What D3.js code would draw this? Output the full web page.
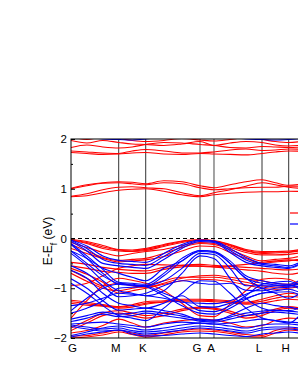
<!DOCTYPE html>
<html>
<head>
<meta charset="utf-8">
<script src="https://cdn.jsdelivr.net/npm/d3@7"></script>
<style>
  body { margin: 0; background: #fff; }
  svg { font-family: Arial, "Liberation Sans", sans-serif; }
</style>
</head>
<body>
<svg id="chart" width="298" height="385"></svg>
<script>
/* high symmetry points along the path */
const kLabels = ["G", "M", "K", "G", "A", "L", "H", "A"];
const kTicks = [0, 0.577, 0.904, 1.561, 1.730, 2.311, 2.634, 3.291];

/* k points where band energies were read */
const kGrid = [0, 0.192, 0.385, 0.577, 0.740, 0.904, 1.123, 1.342, 1.561,
  1.730, 1.924, 2.117, 2.311, 2.472, 2.634, 2.853, 3.072, 3.291];

/* spin up bands (red), eV */
const upBands = [
  [0.84, 0.86, 0.92, 0.97, 0.99, 1.00, 0.95, 0.88, 0.84, 0.88, 0.91, 0.93, 0.94, 0.94, 0.95, 0.94, 0.92, 0.90],
  [0.85, 0.90, 0.98, 1.03, 1.04, 1.02, 1.00, 0.92, 0.86, 0.92, 0.98, 1.05, 1.12, 1.08, 1.03, 1.00, 0.97, 0.95],
  [1.00, 1.06, 1.11, 1.12, 1.10, 1.08, 1.12, 1.10, 1.02, 0.98, 1.00, 1.02, 1.03, 1.03, 1.05, 1.05, 1.03, 1.00],
  [1.01, 1.08, 1.12, 1.14, 1.13, 1.10, 1.16, 1.14, 1.06, 1.02, 1.08, 1.14, 1.18, 1.12, 1.07, 1.10, 1.12, 1.10],
  [1.73, 1.71, 1.69, 1.70, 1.72, 1.73, 1.70, 1.69, 1.71, 1.70, 1.69, 1.68, 1.71, 1.74, 1.76, 1.75, 1.73, 1.70],
  [1.76, 1.74, 1.72, 1.71, 1.76, 1.79, 1.76, 1.72, 1.72, 1.74, 1.78, 1.80, 1.77, 1.78, 1.80, 1.79, 1.76, 1.74],
  [1.83, 1.88, 1.84, 1.82, 1.84, 1.89, 1.93, 1.92, 1.89, 1.87, 1.83, 1.82, 1.85, 1.84, 1.83, 1.84, 1.86, 1.87],
  [1.97, 1.92, 1.97, 1.93, 1.90, 1.89, 1.87, 1.90, 1.95, 1.87, 1.92, 1.95, 1.93, 1.88, 1.86, 1.88, 1.90, 1.88],
  [2.05, 1.99, 2.04, 2.01, 1.97, 1.95, 1.97, 2.01, 1.98, 1.96, 1.99, 2.03, 1.99, 1.95, 1.93, 1.96, 1.99, 1.97],
  [-0.02, -0.06, -0.14, -0.22, -0.23, -0.20, -0.12, -0.05, -0.02, -0.04, -0.12, -0.22, -0.26, -0.26, -0.25, -0.20, -0.12, -0.05],
  [-0.03, -0.08, -0.17, -0.23, -0.25, -0.22, -0.14, -0.06, -0.03, -0.05, -0.13, -0.24, -0.28, -0.27, -0.27, -0.21, -0.13, -0.06],
  [-0.04, -0.10, -0.20, -0.25, -0.26, -0.24, -0.16, -0.08, -0.04, -0.06, -0.15, -0.25, -0.30, -0.29, -0.28, -0.22, -0.14, -0.07],
  [-0.08, -0.18, -0.28, -0.35, -0.30, -0.26, -0.22, -0.14, -0.08, -0.10, -0.18, -0.28, -0.33, -0.33, -0.32, -0.26, -0.18, -0.10],
  [-0.12, -0.25, -0.38, -0.44, -0.42, -0.40, -0.30, -0.18, -0.10, -0.12, -0.22, -0.35, -0.45, -0.42, -0.40, -0.32, -0.22, -0.12],
  [-0.20, -0.30, -0.40, -0.47, -0.45, -0.43, -0.36, -0.25, -0.15, -0.16, -0.28, -0.40, -0.50, -0.47, -0.45, -0.38, -0.27, -0.16],
  [-0.48, -0.52, -0.58, -0.62, -0.64, -0.65, -0.58, -0.54, -0.52, -0.54, -0.56, -0.58, -0.60, -0.62, -0.63, -0.60, -0.56, -0.54],
  [-0.55, -0.60, -0.66, -0.68, -0.70, -0.70, -0.62, -0.57, -0.55, -0.57, -0.60, -0.63, -0.66, -0.70, -0.72, -0.66, -0.60, -0.57],
  [-0.95, -0.90, -0.75, -0.60, -0.55, -0.52, -0.53, -0.54, -0.56, -0.57, -0.55, -0.52, -0.48, -0.45, -0.43, -0.47, -0.52, -0.57],
  [-0.60, -0.72, -0.88, -1.10, -1.05, -1.00, -0.92, -0.85, -0.82, -0.83, -0.87, -0.93, -1.00, -1.02, -1.00, -0.94, -0.88, -0.83],
  [-0.64, -0.80, -0.95, -0.90, -0.95, -0.98, -0.90, -0.80, -0.75, -0.74, -0.78, -0.82, -0.85, -0.90, -0.92, -0.86, -0.80, -0.76],
  [-0.70, -0.86, -1.00, -1.05, -1.00, -0.95, -0.85, -0.78, -0.78, -0.78, -0.82, -0.88, -0.95, -0.98, -0.95, -0.90, -0.85, -0.80],
  [-1.60, -1.25, -0.95, -0.80, -0.84, -0.90, -1.05, -1.30, -1.55, -1.57, -1.32, -1.05, -0.82, -0.80, -0.82, -1.02, -1.30, -1.57],
  [-1.24, -1.28, -1.33, -1.37, -1.33, -1.27, -1.25, -1.22, -1.22, -1.23, -1.25, -1.28, -1.22, -1.15, -1.10, -1.15, -1.20, -1.23],
  [-1.27, -1.31, -1.35, -1.38, -1.35, -1.30, -1.27, -1.24, -1.24, -1.25, -1.27, -1.30, -1.26, -1.20, -1.16, -1.20, -1.24, -1.25],
  [-1.30, -1.34, -1.36, -1.40, -1.38, -1.32, -1.28, -1.26, -1.26, -1.27, -1.29, -1.32, -1.30, -1.25, -1.22, -1.25, -1.28, -1.27],
  [-1.80, -1.65, -1.50, -1.45, -1.50, -1.55, -1.50, -1.42, -1.38, -1.40, -1.46, -1.55, -1.50, -1.42, -1.37, -1.42, -1.47, -1.40],
  [-1.85, -1.70, -1.55, -1.50, -1.55, -1.60, -1.55, -1.45, -1.40, -1.42, -1.50, -1.60, -1.55, -1.45, -1.40, -1.45, -1.50, -1.42],
  [-1.90, -1.85, -1.75, -1.62, -1.70, -1.78, -1.70, -1.65, -1.62, -1.64, -1.70, -1.78, -1.75, -1.65, -1.60, -1.62, -1.65, -1.64],
  [-1.96, -1.95, -1.90, -1.85, -1.90, -1.95, -1.90, -1.85, -1.82, -1.84, -1.88, -1.93, -1.95, -1.85, -1.80, -1.85, -1.90, -1.84],
  [-2.00, -1.98, -1.94, -1.88, -1.93, -1.98, -1.94, -1.88, -1.86, -1.87, -1.91, -1.97, -1.98, -1.90, -1.84, -1.88, -1.93, -1.87]
];

/* spin down bands (blue), eV */
const downBands = [
  [2.10, 2.05, 2.00, 1.99, 1.98, 2.00, 2.05, 2.10, 2.15, 2.10, 2.05, 2.00, 1.99, 1.98, 1.99, 2.02, 2.06, 2.10],
  [-0.03, -0.15, -0.35, -0.44, -0.46, -0.48, -0.30, -0.12, -0.03, -0.05, -0.20, -0.38, -0.50, -0.52, -0.55, -0.40, -0.20, -0.05],
  [-0.04, -0.20, -0.42, -0.50, -0.52, -0.54, -0.36, -0.16, -0.04, -0.06, -0.24, -0.43, -0.52, -0.55, -0.58, -0.43, -0.22, -0.06],
  [-0.06, -0.25, -0.50, -0.55, -0.58, -0.60, -0.42, -0.20, -0.06, -0.08, -0.28, -0.48, -0.55, -0.58, -0.60, -0.45, -0.25, -0.08],
  [-0.10, -0.35, -0.62, -0.88, -0.90, -0.92, -0.70, -0.40, -0.24, -0.26, -0.45, -0.75, -0.85, -0.90, -0.92, -0.75, -0.50, -0.26],
  [-0.12, -0.40, -0.70, -0.92, -0.94, -0.96, -0.75, -0.45, -0.26, -0.28, -0.50, -0.80, -0.90, -0.93, -0.95, -0.80, -0.55, -0.28],
  [-0.25, -0.50, -0.75, -0.90, -0.92, -0.95, -0.85, -0.60, -0.30, -0.32, -0.60, -0.95, -0.95, -0.95, -0.96, -0.85, -0.60, -0.32],
  [-0.25, -0.40, -0.60, -0.70, -0.78, -0.85, -0.60, -0.45, -0.24, -0.26, -0.50, -0.80, -1.00, -1.10, -1.20, -1.00, -0.60, -0.26],
  [-0.30, -0.55, -0.85, -1.05, -1.10, -1.15, -1.05, -0.70, -0.35, -0.40, -0.80, -1.20, -1.40, -1.45, -1.45, -1.30, -0.90, -0.40],
  [-0.55, -0.70, -0.95, -1.17, -1.15, -1.10, -0.95, -0.85, -0.90, -0.92, -0.90, -1.04, -1.05, -1.00, -0.98, -0.95, -0.92, -0.92],
  [-0.64, -0.80, -1.10, -1.30, -1.35, -1.40, -1.30, -1.15, -1.37, -1.38, -1.30, -1.20, -1.10, -1.05, -1.02, -1.15, -1.30, -1.38],
  [-0.81, -1.00, -1.25, -1.44, -1.42, -1.40, -1.45, -1.52, -1.64, -1.66, -1.55, -1.40, -1.30, -1.35, -1.38, -1.45, -1.55, -1.66],
  [-0.90, -1.10, -1.35, -1.55, -1.60, -1.65, -1.40, -1.10, -0.85, -0.86, -1.10, -1.40, -1.60, -1.65, -1.70, -1.40, -1.10, -0.86],
  [-1.35, -1.30, -1.20, -1.10, -1.12, -1.15, -1.20, -1.28, -1.30, -1.31, -1.25, -1.12, -1.00, -0.95, -0.93, -1.10, -1.25, -1.31],
  [-1.45, -1.20, -1.00, -0.92, -0.94, -0.97, -1.15, -1.35, -1.50, -1.52, -1.40, -1.22, -1.10, -1.08, -1.07, -1.20, -1.40, -1.52],
  [-1.50, -1.40, -1.25, -1.00, -0.98, -0.96, -1.10, -1.25, -1.45, -1.47, -1.35, -1.15, -0.92, -0.88, -0.86, -1.05, -1.30, -1.47],
  [-1.62, -1.55, -1.48, -1.52, -1.50, -1.46, -1.50, -1.56, -1.62, -1.64, -1.58, -1.50, -1.46, -1.44, -1.46, -1.50, -1.58, -1.64],
  [-1.67, -1.60, -1.52, -1.57, -1.55, -1.50, -1.55, -1.60, -1.66, -1.68, -1.62, -1.55, -1.50, -1.48, -1.50, -1.55, -1.62, -1.68],
  [-1.72, -1.70, -1.68, -1.72, -1.75, -1.78, -1.72, -1.68, -1.70, -1.72, -1.70, -1.66, -1.62, -1.65, -1.68, -1.70, -1.72, -1.72],
  [-1.74, -1.78, -1.82, -1.80, -1.85, -1.88, -1.85, -1.80, -1.76, -1.78, -1.82, -1.86, -1.80, -1.78, -1.78, -1.82, -1.84, -1.78],
  [-1.77, -1.82, -1.86, -1.84, -1.88, -1.92, -1.89, -1.84, -1.80, -1.82, -1.86, -1.90, -1.84, -1.82, -1.82, -1.86, -1.88, -1.82],
  [-1.95, -1.88, -1.80, -1.76, -1.80, -1.84, -1.80, -1.74, -1.70, -1.72, -1.76, -1.80, -1.74, -1.72, -1.72, -1.76, -1.80, -1.72],
  [-1.98, -1.92, -1.88, -1.84, -1.92, -1.96, -1.95, -1.92, -1.90, -1.92, -1.95, -1.97, -1.92, -1.90, -1.88, -1.92, -1.95, -1.92]
];

const yMajor = [-2, -1, 0, 1, 2];
const yMinor = [-1.5, -0.5, 0.5, 1.5];

/* layout */
const svg = d3.select("#chart");
const W = 298;
const pLeft = 71, pTop = 139, pBottom = 338, pRight = 343;

const x = d3.scaleLinear().domain([0, kTicks[kTicks.length - 1]]).range([pLeft, pRight]);
const y = d3.scaleLinear().domain([-2, 2]).range([pBottom, pTop]);

svg.append("clipPath").attr("id", "plot-clip")
  .append("rect")
  .attr("x", pLeft).attr("y", pTop)
  .attr("width", pRight - pLeft).attr("height", pBottom - pTop);

const plot = svg.append("g").attr("clip-path", "url(#plot-clip)");

const line = d3.line()
  .x((d, i) => x(kGrid[i]))
  .y(d => y(d))
  .curve(d3.curveMonotoneX);

// high symmetry lines
plot.selectAll(".kline")
  .data(kTicks.slice(1))
  .join("line")
  .attr("x1", d => x(d)).attr("x2", d => x(d))
  .attr("y1", pTop).attr("y2", pBottom)
  .attr("stroke", (d, i) => (i === 2 || i === 3) ? "#8c8c8c" : "#333")
  .attr("stroke-width", (d, i) => (i === 2 || i === 3) ? 1.6 : 1);

plot.append("g").selectAll("path")
  .data(upBands)
  .join("path")
  .attr("d", line)
  .attr("fill", "none")
  .attr("stroke", "#ff0000")
  .attr("stroke-width", 1.1);

plot.append("g").selectAll("path")
  .data(downBands)
  .join("path")
  .attr("d", line)
  .attr("fill", "none")
  .attr("stroke", "#0000ff")
  .attr("stroke-width", 1.1);

// Fermi level
plot.append("line")
  .attr("x1", pLeft).attr("x2", pRight)
  .attr("y1", y(0)).attr("y2", y(0))
  .attr("stroke", "#000")
  .attr("stroke-dasharray", "4,3");

// frame
svg.append("rect")
  .attr("x", pLeft).attr("y", pTop)
  .attr("width", pRight - pLeft).attr("height", pBottom - pTop)
  .attr("fill", "none").attr("stroke", "#000").attr("stroke-width", 1);

// y axis
const yAxis = svg.append("g")
  .attr("transform", `translate(${pLeft},0)`)
  .call(d3.axisLeft(y).tickValues(yMajor).tickFormat(d3.format("d"))
    .tickSizeInner(-4).tickSizeOuter(0).tickPadding(4));
yAxis.select(".domain").remove();
yAxis.selectAll("text").attr("font-size", 11.5).attr("fill", "#000")
  .attr("font-family", "Arial, 'Liberation Sans', sans-serif");

svg.append("g")
  .attr("transform", `translate(${pLeft},0)`)
  .call(d3.axisLeft(y).tickValues(yMinor).tickFormat("")
    .tickSizeInner(-2).tickSizeOuter(0))
  .call(g => g.select(".domain").remove());

// y label
const ylab = svg.append("text")
  .attr("transform", `translate(52,241) rotate(-90)`)
  .attr("text-anchor", "middle")
  .attr("font-size", 12);
ylab.append("tspan").text("E-E");
ylab.append("tspan").attr("font-size", 9).attr("baseline-shift", "sub").text("f");
ylab.append("tspan").text(" (eV)");

// k labels (the last one falls outside the visible area)
svg.append("g").selectAll("text")
  .data(kLabels.map((d, i) => ({ label: d, k: kTicks[i], i })).filter(d => x(d.k) < W - 6))
  .join("text")
  .attr("x", d => x(d.k))
  .attr("dx", d => d.i === 0 ? 1.5 : -3)
  .attr("y", 352)
  .attr("text-anchor", "middle")
  .attr("font-size", 11.5)
  .text(d => d.label);

// legend
const legendColors = ["#ff0000", "#0000ff"];
svg.append("g").selectAll("line")
  .data(legendColors)
  .join("line")
  .attr("x1", 290).attr("x2", 304)
  .attr("y1", (d, i) => 213 + i * 11).attr("y2", (d, i) => 213 + i * 11)
  .attr("stroke", d => d)
  .attr("stroke-width", 1.2);
</script>
</body>
</html>
